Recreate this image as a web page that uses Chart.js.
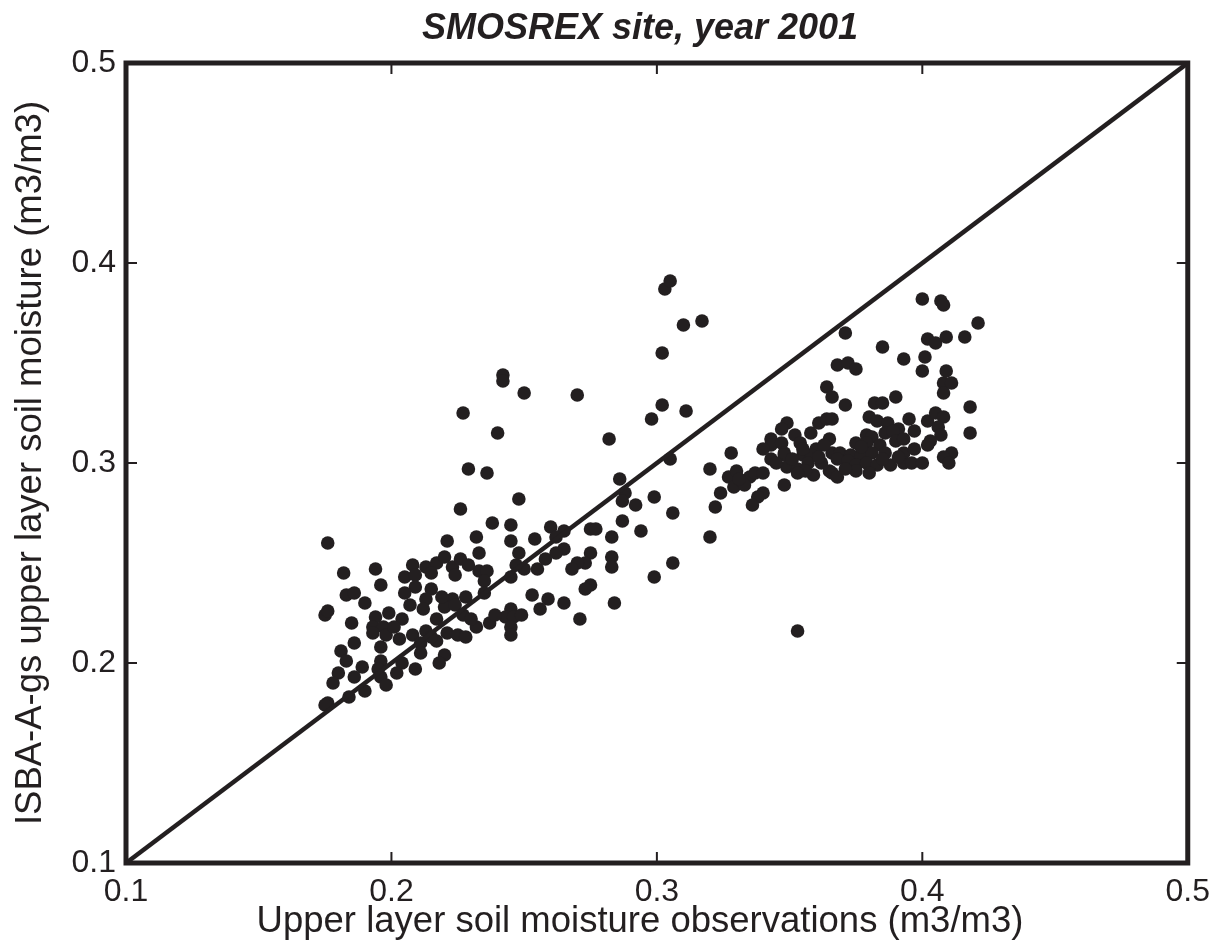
<!DOCTYPE html>
<html lang="en">
<head>
    <meta charset="utf-8">
    <title>SMOSREX site, year 2001</title>
    <script src="https://cdn.jsdelivr.net/npm/chart.js@4.4.1/dist/chart.umd.min.js"></script>
    <style>
        body { margin: 0; background: #fff; }
    </style>
</head>
<body>
<canvas id="myChart" width="1220" height="951"></canvas>
<script>
// observed (x) vs ISBA-A-gs (y) upper layer soil moisture, m3/m3
var obsX = [
    0.176, 0.221, 0.232, 0.238, 0.182, 0.194, 0.208, 0.213, 0.217, 0.220,
    0.223, 0.226, 0.233, 0.233, 0.236, 0.224, 0.205, 0.209, 0.196, 0.209,
    0.235, 0.183, 0.186, 0.205, 0.215, 0.213, 0.190, 0.223, 0.228, 0.220,
    0.224, 0.235, 0.175, 0.176, 0.194, 0.199, 0.212, 0.217, 0.227, 0.185,
    0.193, 0.197, 0.204, 0.193, 0.198, 0.208, 0.213, 0.221, 0.225, 0.228,
    0.232, 0.237, 0.186, 0.196, 0.203, 0.211, 0.217, 0.181, 0.211, 0.183,
    0.196, 0.204, 0.220, 0.218, 0.189, 0.195, 0.202, 0.209, 0.180, 0.178,
    0.186, 0.196, 0.198, 0.190, 0.184, 0.176, 0.175, 0.242, 0.242, 0.227,
    0.240, 0.229, 0.236, 0.248, 0.226, 0.302, 0.250, 0.270, 0.302, 0.298,
    0.311, 0.282, 0.305, 0.328, 0.320, 0.327, 0.329, 0.324, 0.322, 0.320,
    0.286, 0.288, 0.287, 0.292, 0.299, 0.306, 0.287, 0.294, 0.306, 0.299,
    0.245, 0.245, 0.248, 0.260, 0.265, 0.275, 0.277, 0.283, 0.262, 0.265,
    0.262, 0.258, 0.255, 0.250, 0.247, 0.245, 0.275, 0.273, 0.270, 0.268,
    0.283, 0.283, 0.275, 0.273, 0.284, 0.253, 0.259, 0.256, 0.265, 0.271,
    0.245, 0.243, 0.246, 0.249, 0.245, 0.245, 0.303, 0.305, 0.310, 0.317,
    0.400, 0.407, 0.408, 0.371, 0.385, 0.393, 0.402, 0.405, 0.409, 0.401,
    0.400, 0.409, 0.408, 0.411, 0.408, 0.368, 0.372, 0.375, 0.364, 0.366,
    0.371, 0.382, 0.385, 0.390, 0.380, 0.383, 0.387, 0.395, 0.391, 0.397,
    0.402, 0.405, 0.408, 0.406, 0.407, 0.403, 0.402, 0.411, 0.408, 0.410,
    0.349, 0.347, 0.361, 0.364, 0.366, 0.358, 0.352, 0.354, 0.343, 0.343,
    0.347, 0.348, 0.365, 0.360, 0.375, 0.379, 0.381, 0.386, 0.389, 0.384,
    0.390, 0.393, 0.379, 0.366, 0.369, 0.373, 0.377, 0.381, 0.386, 0.393,
    0.340, 0.343, 0.348, 0.355, 0.358, 0.349, 0.353, 0.357, 0.362, 0.368,
    0.372, 0.375, 0.379, 0.383, 0.388, 0.393, 0.396, 0.400, 0.380, 0.375,
    0.365, 0.359, 0.356, 0.353, 0.366, 0.368, 0.330, 0.335, 0.337, 0.340,
    0.340, 0.348, 0.338, 0.336, 0.421, 0.416, 0.418, 0.418, 0.353, 0.345,
    0.351, 0.361, 0.371, 0.385, 0.391, 0.397, 0.377, 0.363, 0.355, 0.333,
    0.331, 0.215, 0.229, 0.219, 0.207, 0.201, 0.215, 0.230, 0.239, 0.254
];
var modelY = [
    0.260, 0.261, 0.263, 0.270, 0.245, 0.247, 0.249, 0.248, 0.250, 0.253,
    0.248, 0.252, 0.255, 0.246, 0.246, 0.244, 0.243, 0.244, 0.239, 0.238,
    0.241, 0.234, 0.235, 0.235, 0.237, 0.232, 0.230, 0.232, 0.233, 0.228,
    0.229, 0.235, 0.224, 0.226, 0.223, 0.225, 0.227, 0.222, 0.224, 0.220,
    0.218, 0.218, 0.222, 0.215, 0.214, 0.214, 0.216, 0.215, 0.214, 0.213,
    0.218, 0.220, 0.210, 0.208, 0.212, 0.210, 0.211, 0.206, 0.205, 0.201,
    0.201, 0.200, 0.204, 0.200, 0.198, 0.197, 0.195, 0.197, 0.195, 0.190,
    0.193, 0.193, 0.189, 0.186, 0.183, 0.180, 0.179, 0.344, 0.341, 0.325,
    0.315, 0.297, 0.295, 0.282, 0.277, 0.355, 0.335, 0.334, 0.329, 0.322,
    0.326, 0.312, 0.302, 0.305, 0.297, 0.293, 0.288, 0.285, 0.278, 0.263,
    0.292, 0.285, 0.281, 0.279, 0.283, 0.275, 0.271, 0.266, 0.250, 0.243,
    0.269, 0.261, 0.255, 0.268, 0.266, 0.267, 0.267, 0.263, 0.263, 0.257,
    0.255, 0.252, 0.247, 0.247, 0.249, 0.243, 0.255, 0.250, 0.250, 0.247,
    0.253, 0.248, 0.239, 0.237, 0.230, 0.234, 0.232, 0.227, 0.230, 0.222,
    0.227, 0.223, 0.223, 0.224, 0.218, 0.214, 0.387, 0.391, 0.369, 0.371,
    0.382, 0.381, 0.379, 0.365, 0.358, 0.352, 0.362, 0.360, 0.363, 0.353,
    0.346, 0.346, 0.340, 0.340, 0.335, 0.349, 0.350, 0.347, 0.338, 0.333,
    0.329, 0.330, 0.330, 0.333, 0.323, 0.321, 0.320, 0.322, 0.317, 0.316,
    0.321, 0.325, 0.323, 0.318, 0.314, 0.311, 0.309, 0.305, 0.303, 0.300,
    0.320, 0.317, 0.320, 0.322, 0.322, 0.315, 0.314, 0.310, 0.312, 0.309,
    0.310, 0.305, 0.312, 0.307, 0.310, 0.314, 0.313, 0.315, 0.316, 0.309,
    0.311, 0.312, 0.310, 0.305, 0.305, 0.304, 0.304, 0.305, 0.305, 0.305,
    0.307, 0.302, 0.304, 0.304, 0.304, 0.298, 0.297, 0.300, 0.300, 0.302,
    0.301, 0.299, 0.300, 0.299, 0.299, 0.300, 0.300, 0.300, 0.295, 0.296,
    0.296, 0.294, 0.296, 0.295, 0.295, 0.293, 0.296, 0.293, 0.295, 0.295,
    0.285, 0.289, 0.283, 0.279, 0.370, 0.363, 0.328, 0.315, 0.216, 0.300,
    0.302, 0.303, 0.297, 0.302, 0.303, 0.307, 0.308, 0.309, 0.307, 0.289,
    0.292, 0.245, 0.249, 0.233, 0.229, 0.218, 0.213, 0.222, 0.224, 0.262
];
// 1:1 line
var diagX = [0.1, 0.5];
var diagY = [0.1, 0.5];
var axisMin = 0.1;
var axisMax = 0.5;
var tickStep = 0.1;

var chartTitle = 'SMOSREX site, year 2001';
var xTitle = 'Upper layer soil moisture observations (m3/m3)';
var yTitle = 'ISBA-A-gs upper layer soil moisture (m3/m3)';

var ink = "#231f20";
var fontName = "'Liberation Sans', Arial, Helvetica, sans-serif";

var scatterData = obsX.map(function (x, i) { return { x: x, y: modelY[i] }; });
var diagData = diagX.map(function (x, i) { return { x: x, y: diagY[i] }; });

// closed box with short inward ticks, plus the titles centred on the figure
var frameBox = {
    id: 'frameBox',
    afterDraw: function (chart) {
        var ctx = chart.ctx;
        var a = chart.chartArea;
        var xs = chart.scales.x, ys = chart.scales.y;
        ctx.save();
        ctx.strokeStyle = ink;
        ctx.lineWidth = 2;
        xs.ticks.forEach(function (t) {
            if (t.value <= axisMin + 1e-9 || t.value >= axisMax - 1e-9) return;
            var px = xs.getPixelForValue(t.value);
            ctx.beginPath();
            ctx.moveTo(px, a.bottom); ctx.lineTo(px, a.bottom - 11);
            ctx.moveTo(px, a.top); ctx.lineTo(px, a.top + 11);
            ctx.stroke();
        });
        ys.ticks.forEach(function (t) {
            if (t.value <= axisMin + 1e-9 || t.value >= axisMax - 1e-9) return;
            var py = ys.getPixelForValue(t.value);
            ctx.beginPath();
            ctx.moveTo(a.left, py); ctx.lineTo(a.left + 11, py);
            ctx.moveTo(a.right, py); ctx.lineTo(a.right - 11, py);
            ctx.stroke();
        });
        ctx.lineWidth = 5;
        ctx.strokeRect(a.left, a.top, a.right - a.left, a.bottom - a.top);

        ctx.fillStyle = ink;
        ctx.textAlign = 'center';
        ctx.textBaseline = 'middle';
        ctx.font = "italic bold 36px " + fontName;
        ctx.fillText(chartTitle, 640, 29);
        ctx.font = "36.5px " + fontName;
        ctx.fillText(xTitle, 640, 922);
        ctx.restore();
    }
};

var ctx = document.getElementById("myChart").getContext("2d");
var myChart = new Chart(ctx, {
    type: 'scatter',
    data: {
        datasets: [{
            type: 'line',
            label: '1:1',
            data: diagData,
            borderColor: ink,
            borderWidth: 4.5,
            pointRadius: 0,
            fill: false,
            tension: 0
        },
        {
            label: 'daily values',
            data: scatterData,
            backgroundColor: ink,
            borderWidth: 0,
            pointRadius: 6.8,
            pointHoverRadius: 6.8
        }]
    },
    options: {
        responsive: false,
        animation: false,
        events: [],
        layout: { padding: { left: 0, right: 29, top: 63, bottom: 0 } },
        plugins: {
            legend: { display: false },
            tooltip: { enabled: false },
            title: { display: false }
        },
        scales: {
            x: {
                type: 'linear',
                min: axisMin,
                max: axisMax,
                grid: { display: false, drawTicks: false },
                border: { display: false },
                ticks: {
                    stepSize: tickStep,
                    color: ink,
                    padding: 10,
                    maxRotation: 0,
                    font: { family: fontName, size: 32 },
                    callback: function (v) { return v.toFixed(1); }
                },
                title: { display: false },
                afterFit: function (scale) { scale.height = 88; }
            },
            y: {
                type: 'linear',
                min: axisMin,
                max: axisMax,
                grid: { display: false, drawTicks: false },
                border: { display: false },
                ticks: {
                    stepSize: tickStep,
                    color: ink,
                    padding: 10,
                    font: { family: fontName, size: 32 },
                    callback: function (v) { return v.toFixed(1); }
                },
                title: {
                    display: true,
                    text: yTitle,
                    color: ink,
                    font: { family: fontName, size: 36.5 },
                    padding: { top: 9, bottom: 0 }
                },
                afterFit: function (scale) { scale.width = 126; }
            }
        }
    },
    plugins: [frameBox]
});
</script>
</body>
</html>
